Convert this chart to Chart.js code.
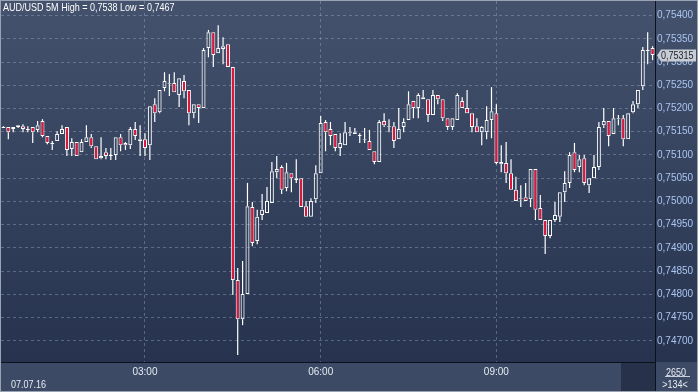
<!DOCTYPE html>
<html>
<head>
<meta charset="utf-8">
<title>AUD/USD 5M</title>
<script src="https://cdn.jsdelivr.net/npm/chart.js@4.4.0/dist/chart.umd.min.js"></script>
<style>
  html, body { margin: 0; padding: 0; background: #2b3852; }
  #wrap {
    position: relative; width: 698px; height: 392px; overflow: hidden;
    font-family: 'Liberation Sans', Arial, sans-serif;
    font-size: 11px;
  }
  canvas { display: block; }
  /* narrow look of the original terminal font */
  .lbl {
    position: absolute; white-space: nowrap; line-height: 12px; color: #e6ebf2;
    transform: scaleX(0.82); transform-origin: left center;
  }
  .mid { transform-origin: center center; text-align: center; }
</style>
</head>
<body>
<div id="wrap">
  <canvas id="chart" width="698" height="392"></canvas>
  <div class="lbl" style="left:3px;top:1px;color:#ffffff">AUD/USD 5M High = 0,7538 Low = 0,7467</div>
  <div class="lbl" style="left:11px;top:378px">07.07.16</div>
  <div class="lbl mid" style="left:660px;top:366px;width:32px">2650</div>
  <div style="position:absolute;left:665px;top:376px;width:25px;height:1px;background:#c9d0dc"></div>
  <div class="lbl mid" style="left:658px;top:378px;width:34px">&gt;134&lt;</div>
</div>
<script>
(function () {
  'use strict';

  // 5-minute candles, 07.07.16 from 00:35
  const opens = [
    0.75158, 0.75160, 0.75156, 0.75164, 0.75162, 0.75154, 0.75160, 0.75154, 0.75173, 0.75141,
    0.75123, 0.75130, 0.75145, 0.75160, 0.75113, 0.75128, 0.75106, 0.75128, 0.75138, 0.75119,
    0.75093, 0.75106, 0.75098, 0.75100, 0.75138, 0.75126, 0.75121, 0.75156, 0.75134, 0.75134,
    0.75121, 0.75209, 0.75192, 0.75244, 0.75253, 0.75255, 0.75229, 0.75259, 0.75240, 0.75190,
    0.75209, 0.75201, 0.75330, 0.75364, 0.75319, 0.75328, 0.75338, 0.75289, 0.74831, 0.74747,
    0.74801, 0.74988, 0.74915, 0.74971, 0.74975, 0.74997, 0.75063, 0.75074, 0.75029, 0.75061,
    0.75050, 0.75050, 0.74990, 0.74967, 0.75005, 0.75061, 0.75171, 0.75156, 0.75145, 0.75115,
    0.75121, 0.75147, 0.75149, 0.75141, 0.75132, 0.75130, 0.75108, 0.75085, 0.75173, 0.75160,
    0.75162, 0.75134, 0.75160, 0.75175, 0.75216, 0.75201, 0.75224, 0.75220, 0.75186, 0.75229,
    0.75220, 0.75179, 0.75160, 0.75175, 0.75216, 0.75201, 0.75190, 0.75162, 0.75149, 0.75149,
    0.75175, 0.75190, 0.75080, 0.75083, 0.75061, 0.75025, 0.75005, 0.75009, 0.75005, 0.75070,
    0.74986, 0.74960, 0.74926, 0.74960, 0.74967, 0.75020, 0.75040, 0.75106, 0.75074, 0.75093,
    0.75035, 0.75050, 0.75074, 0.75164, 0.75173, 0.75145, 0.75177, 0.75179, 0.75134, 0.75192,
    0.75209, 0.75248, 0.75323, 0.75330
  ];
  const highs = [
    0.75162, 0.75160, 0.75160, 0.75164, 0.75166, 0.75162, 0.75160, 0.75173, 0.75177, 0.75141,
    0.75130, 0.75151, 0.75164, 0.75160, 0.75136, 0.75128, 0.75134, 0.75164, 0.75145, 0.75119,
    0.75138, 0.75115, 0.75115, 0.75138, 0.75145, 0.75128, 0.75160, 0.75171, 0.75164, 0.75147,
    0.75205, 0.75222, 0.75240, 0.75278, 0.75274, 0.75278, 0.75265, 0.75272, 0.75240, 0.75209,
    0.75209, 0.75330, 0.75369, 0.75364, 0.75379, 0.75353, 0.75338, 0.75289, 0.74857, 0.74872,
    0.75040, 0.74999, 0.74982, 0.75016, 0.75031, 0.75085, 0.75098, 0.75078, 0.75083, 0.75061,
    0.75091, 0.75050, 0.75001, 0.75007, 0.75078, 0.75184, 0.75175, 0.75171, 0.75145, 0.75147,
    0.75171, 0.75160, 0.75158, 0.75147, 0.75158, 0.75154, 0.75108, 0.75175, 0.75190, 0.75177,
    0.75171, 0.75201, 0.75179, 0.75237, 0.75216, 0.75233, 0.75240, 0.75220, 0.75240, 0.75229,
    0.75220, 0.75179, 0.75179, 0.75233, 0.75224, 0.75240, 0.75190, 0.75179, 0.75162, 0.75205,
    0.75246, 0.75209, 0.75121, 0.75128, 0.75091, 0.75053, 0.75035, 0.75040, 0.75070, 0.75070,
    0.75014, 0.74960, 0.74960, 0.74999, 0.75020, 0.75065, 0.75106, 0.75126, 0.75100, 0.75100,
    0.75050, 0.75100, 0.75171, 0.75201, 0.75173, 0.75201, 0.75186, 0.75186, 0.75190, 0.75216,
    0.75240, 0.75332, 0.75364, 0.75334
  ];
  const lows = [
    0.75158, 0.75134, 0.75149, 0.75158, 0.75149, 0.75149, 0.75126, 0.75149, 0.75138, 0.75123,
    0.75111, 0.75130, 0.75145, 0.75098, 0.75098, 0.75098, 0.75106, 0.75128, 0.75115, 0.75091,
    0.75091, 0.75091, 0.75089, 0.75089, 0.75108, 0.75111, 0.75113, 0.75132, 0.75098, 0.75098,
    0.75089, 0.75171, 0.75190, 0.75237, 0.75227, 0.75235, 0.75203, 0.75222, 0.75164, 0.75179,
    0.75169, 0.75201, 0.75310, 0.75289, 0.75319, 0.75295, 0.75289, 0.74799, 0.74670, 0.74734,
    0.74801, 0.74904, 0.74908, 0.74960, 0.74975, 0.74997, 0.75050, 0.75016, 0.75022, 0.75020,
    0.75040, 0.74988, 0.74967, 0.74967, 0.74997, 0.75061, 0.75108, 0.75121, 0.75108, 0.75098,
    0.75121, 0.75141, 0.75145, 0.75126, 0.75126, 0.75111, 0.75080, 0.75085, 0.75160, 0.75149,
    0.75115, 0.75134, 0.75149, 0.75175, 0.75179, 0.75179, 0.75220, 0.75171, 0.75186, 0.75209,
    0.75173, 0.75154, 0.75154, 0.75175, 0.75201, 0.75190, 0.75149, 0.75149, 0.75121, 0.75134,
    0.75136, 0.75080, 0.75063, 0.75040, 0.75025, 0.75001, 0.74988, 0.75001, 0.74988, 0.74960,
    0.74960, 0.74887, 0.74921, 0.74956, 0.74956, 0.74999, 0.75029, 0.75063, 0.75063, 0.75035,
    0.75018, 0.75050, 0.75068, 0.75158, 0.75119, 0.75145, 0.75164, 0.75119, 0.75134, 0.75190,
    0.75201, 0.75240, 0.75295, 0.75304
  ];
  const closes = [
    0.75160, 0.75149, 0.75160, 0.75160, 0.75156, 0.75156, 0.75149, 0.75164, 0.75141, 0.75126,
    0.75126, 0.75145, 0.75156, 0.75111, 0.75128, 0.75098, 0.75128, 0.75138, 0.75119, 0.75091,
    0.75098, 0.75098, 0.75100, 0.75138, 0.75121, 0.75121, 0.75156, 0.75141, 0.75130, 0.75115,
    0.75205, 0.75190, 0.75240, 0.75259, 0.75255, 0.75235, 0.75265, 0.75237, 0.75190, 0.75209,
    0.75201, 0.75326, 0.75364, 0.75315, 0.75330, 0.75334, 0.75289, 0.74831, 0.74747, 0.74801,
    0.74990, 0.74911, 0.74967, 0.74982, 0.75001, 0.75065, 0.75070, 0.75025, 0.75063, 0.75050,
    0.75046, 0.74988, 0.74967, 0.75001, 0.75061, 0.75169, 0.75149, 0.75141, 0.75115, 0.75126,
    0.75149, 0.75149, 0.75145, 0.75143, 0.75134, 0.75111, 0.75085, 0.75171, 0.75164, 0.75162,
    0.75130, 0.75156, 0.75171, 0.75209, 0.75201, 0.75229, 0.75220, 0.75186, 0.75229, 0.75220,
    0.75179, 0.75160, 0.75179, 0.75229, 0.75201, 0.75190, 0.75160, 0.75149, 0.75160, 0.75175,
    0.75194, 0.75083, 0.75085, 0.75061, 0.75025, 0.75001, 0.75007, 0.75001, 0.75070, 0.74982,
    0.74960, 0.74926, 0.74960, 0.74971, 0.75020, 0.75040, 0.75100, 0.75068, 0.75091, 0.75040,
    0.75050, 0.75074, 0.75160, 0.75173, 0.75141, 0.75179, 0.75179, 0.75134, 0.75190, 0.75209,
    0.75240, 0.75326, 0.75326, 0.75315
  ];

  const priceTicks = [0.747, 0.7475, 0.748, 0.7485, 0.749, 0.7495, 0.75, 0.7505,
                      0.751, 0.7515, 0.752, 0.7525, 0.753, 0.7535, 0.754];
  const timeTicks = ['03:00', '06:00', '09:00'];

  const PRICE_MIN = 0.746548;
  const PRICE_MAX = 0.754312;

  const RED   = '#e3143c';
  const WHITE = '#ffffff';
  const GRID  = 'rgba(150, 166, 196, 0.45)';
  const AXIS  = '#0c121d';
  const FONT  = "'Liberation Sans', Arial, sans-serif";

  // category labels: one every 5 minutes starting 00:35
  const times = [];
  for (let i = 0; i < opens.length; i++) {
    const m = 35 + i * 5;
    times.push(String(Math.floor(m / 60)).padStart(2, '0') + ':' + String(m % 60).padStart(2, '0'));
  }

  function fmt(v) {
    return v.toFixed(5).replace('.', ',');
  }

  const bodies = opens.map(function (o, i) {
    return [Math.min(o, closes[i]), Math.max(o, closes[i])];
  });
  const upperWicks = opens.map(function (o, i) {
    return [Math.max(o, closes[i]), highs[i]];
  });
  const lowerWicks = opens.map(function (o, i) {
    return [lows[i], Math.min(o, closes[i])];
  });
  const bodyFill = opens.map(function (o, i) {
    return closes[i] < o ? RED : 'rgba(0,0,0,0)';
  });

  const backdrop = {
    id: 'backdrop',
    beforeDraw: function (chart) {
      const ctx = chart.ctx;
      const area = chart.chartArea;
      const g = ctx.createLinearGradient(0, 0, 0, area.bottom);
      g.addColorStop(0, '#44526d');
      g.addColorStop(1, '#26324e');
      ctx.save();
      ctx.fillStyle = g;
      ctx.fillRect(0, 0, chart.width, area.bottom);
      ctx.fillStyle = '#3d4a66';
      ctx.fillRect(0, area.bottom, chart.width, chart.height - area.bottom);
      ctx.fillStyle = '#27324a';
      ctx.fillRect(area.right - 34, area.bottom, 34, chart.height - area.bottom);
      ctx.restore();
    },
    afterDraw: function (chart) {
      const ctx = chart.ctx;
      const area = chart.chartArea;
      const last = closes[closes.length - 1];
      const y = Math.round(chart.scales.y.getPixelForValue(last)) + 0.5;
      const x0 = area.right + 2;

      ctx.save();
      // axis separator through the bottom strip
      ctx.strokeStyle = AXIS;
      ctx.lineWidth = 1;
      ctx.beginPath();
      ctx.moveTo(area.right + 0.5, area.bottom);
      ctx.lineTo(area.right + 0.5, chart.height);
      ctx.stroke();

      // last price tag
      ctx.fillStyle = '#c8ccd3';
      ctx.beginPath();
      ctx.moveTo(x0, y);
      ctx.lineTo(x0 + 4, y - 6);
      ctx.lineTo(696, y - 6);
      ctx.lineTo(696, y + 6);
      ctx.lineTo(x0 + 4, y + 6);
      ctx.closePath();
      ctx.fill();
      ctx.fillStyle = '#1b2130';
      ctx.font = '11px ' + FONT;
      ctx.textBaseline = 'middle';
      ctx.translate(x0 + 4, y);
      ctx.scale(0.82, 1);
      ctx.fillText(fmt(last), 0, 0);
      ctx.setTransform(1, 0, 0, 1, 0, 0);

      // outer frame
      ctx.strokeStyle = '#9aa3b3';
      ctx.strokeRect(0.5, 0.5, chart.width - 1, chart.height - 1);
      ctx.restore();
    }
  };

  Chart.defaults.font.family = FONT;
  Chart.defaults.font.size = 10;

  new Chart(document.getElementById('chart'), {
    type: 'bar',
    data: {
      labels: times,
      datasets: [
        {
          data: bodies,
          backgroundColor: bodyFill,
          borderColor: WHITE,
          borderWidth: 1,
          borderSkipped: false,
          barThickness: 4,
          inflateAmount: 0,
          grouped: false,
          order: 0
        },
        {
          data: upperWicks,
          backgroundColor: WHITE,
          borderWidth: 0,
          barThickness: 1.2,
          inflateAmount: 0,
          grouped: false,
          order: 1
        },
        {
          data: lowerWicks,
          backgroundColor: WHITE,
          borderWidth: 0,
          barThickness: 1.2,
          inflateAmount: 0,
          grouped: false,
          order: 1
        }
      ]
    },
    options: {
      responsive: false,
      animation: false,
      events: [],
      layout: { padding: { left: 1, top: 1, right: 0, bottom: 0 } },
      plugins: {
        legend: { display: false },
        tooltip: { enabled: false }
      },
      scales: {
        x: {
          offset: true,
          grid: { color: GRID, offset: false, drawTicks: false },
          border: { color: AXIS, width: 1, dash: [3, 3] },
          ticks: {
            color: '#e6ebf2',
            padding: 4,
            autoSkip: false,
            maxRotation: 0
          },
          afterBuildTicks: function (scale) {
            scale.ticks = scale.ticks.filter(function (t) {
              return timeTicks.indexOf(times[t.value]) !== -1;
            });
          },
          afterFit: function (scale) {
            scale.height = 30;
            scale.paddingLeft = 0;
            scale.paddingRight = 0;
          }
        },
        y: {
          position: 'right',
          min: PRICE_MIN,
          max: PRICE_MAX,
          grid: { color: GRID, drawTicks: false },
          border: { color: AXIS, width: 1, dash: [3, 3] },
          ticks: {
            color: '#a9c5f0',
            padding: 2,
            callback: function (v) { return fmt(v); }
          },
          afterBuildTicks: function (scale) {
            scale.ticks = priceTicks.map(function (v) { return { value: v }; });
          },
          afterFit: function (scale) {
            scale.width = 43;
            scale.paddingTop = 0;
            scale.paddingBottom = 0;
          }
        }
      }
    },
    plugins: [backdrop]
  });
})();
</script>
</body>
</html>
